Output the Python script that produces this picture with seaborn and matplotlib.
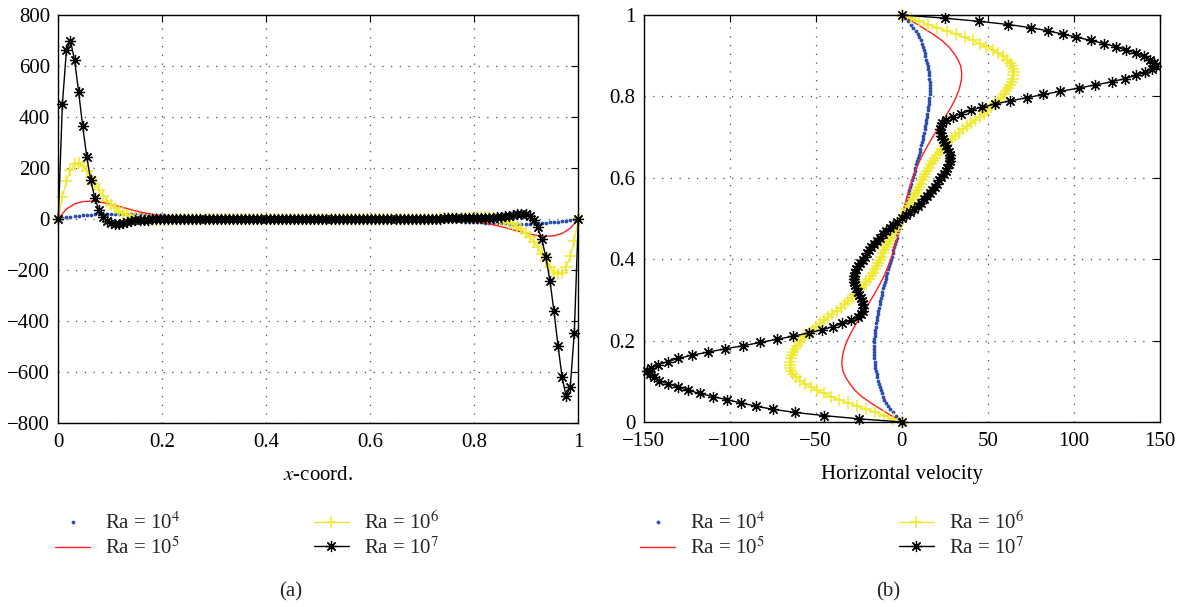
"""
Mid-plane velocity profiles of the heated cavity for four Rayleigh numbers
(a) vertical velocity along x at mid-height, (b) horizontal velocity along y at mid-width
"""

import numpy as np
import matplotlib
matplotlib.use('Agg')  # no display
import matplotlib.pyplot as plt
from matplotlib.ticker import FuncFormatter, MultipleLocator
import seaborn as sns

# (a) vertical velocity at mid-height, 129 points over x in [0, 1] (Ra = 1e5 on 65 points)
v_ra4 = [
    0, 2.5, 5.0, 7.3, 9.5, 11.4, 13.1, 14.6,
    15.9, 17.0, 17.9, 18.6, 19.1, 19.4, 19.6, 19.6,
    19.5, 19.2, 18.8, 18.3, 17.7, 17.0, 16.3, 15.6,
    14.8, 14.0, 13.2, 12.4, 11.6, 10.8, 10.0, 9.3,
    8.6, 7.9, 7.3, 6.7, 6.1, 5.6, 5.1, 4.6,
    4.2, 3.8, 3.4, 3.1, 2.8, 2.5, 2.2, 2.0,
    1.8, 1.6, 1.4, 1.2, 1.0, 0.9, 0.8, 0.7,
    0.6, 0.5, 0.4, 0.3, 0.2, 0.2, 0.1, 0.1,
    0, -0.1, -0.1, -0.2, -0.2, -0.3, -0.4, -0.5,
    -0.6, -0.7, -0.8, -0.9, -1.0, -1.2, -1.4, -1.6,
    -1.8, -2.0, -2.2, -2.5, -2.8, -3.1, -3.4, -3.8,
    -4.2, -4.6, -5.1, -5.6, -6.1, -6.7, -7.3, -7.9,
    -8.6, -9.3, -10.0, -10.8, -11.6, -12.4, -13.2, -14.0,
    -14.8, -15.6, -16.3, -17.0, -17.7, -18.3, -18.8, -19.2,
    -19.5, -19.6, -19.6, -19.4, -19.1, -18.6, -17.9, -17.0,
    -15.9, -14.6, -13.1, -11.4, -9.5, -7.3, -5.0, -2.5,
    0,
]
v_ra5 = [
    0, 38, 58, 67, 69, 66, 60, 52,
    44, 35, 27, 20.5, 15, 11, 8, 5.8,
    4.2, 3, 2.1, 1.4, 0.9, 0.6, 0.4, 0.2,
    0.1, 0.1, 0, 0, 0, 0, 0, 0,
    0,
    0, 0, 0, 0, 0, 0, -0.1, -0.1,
    -0.2, -0.4, -0.6, -0.9, -1.4, -2.1, -3, -4.2,
    -5.8, -8, -11, -15, -20.5, -27, -35, -44,
    -52, -60, -66, -69, -67, -58, -38, 0,
]
v_ra6 = [
    0, 86, 148, 190, 213, 218, 208, 188,
    163, 138, 112, 90, 71, 55, 42, 31,
    22, 15, 9, 4, 0, -3, -5, -6,
    -6, -6, -5, -4, -3, -2, -2, -1,
    -1, -1, -1, -0.5, -0.5, -0.5, -0.5, 0,
    0, 0, 0, 0, 0, 0, 0, 0,
    0, 0, 0, 0, 0, 0, 0, 0,
    0, 0, 0, 0, 0, 0, 0, 0,
    0, 0, 0, 0, 0, 0, 0, 0,
    0, 0, 0, 0, 0, 0, 0, 0,
    0, 0, 0, 0, 0, 0, 0, 0,
    0, 0, 0.5, 0.5, 0.5, 0.5, 1, 1,
    1, 1, 2, 2, 3, 4, 5, 6,
    6, 6, 5, 3, 0, -4, -9, -15,
    -22, -31, -42, -55, -71, -90, -112, -138,
    -163, -188, -208, -218, -213, -190, -148, -86,
    0,
]
v_ra7 = [
    0, 448, 661, 697, 622, 498, 363, 243,
    150, 80, 34, 6, -9, -17, -20, -19,
    -16, -12, -9, -7, -5, -4, -3.5, -3,
    -2.5, -2, -2, -1.5, -1.5, -1, -1, -1,
    -1, -1, -0.5, -0.5, -0.5, -0.5, 0, 0,
    0, 0, 0, 0, 0, 0, 0, 0,
    0, 0, 0, 0, 0, 0, 0, 0,
    0, 0, 0, 0, 0, 0, 0, 0,
    0, 0, 0, 0, 0, 0, 0, 0,
    0, 0, 0, 0, 0, 0, 0, 0,
    0, 0, 0, 0, 0, 0, 0, 0,
    0, 0, 0, 0.5, 0.5, 0.5, 0.5, 1,
    1, 1, 1, 1, 1.5, 1.5, 2, 2,
    2.5, 3, 3.5, 4, 5, 7, 9, 12,
    16, 19, 20, 17, 9, -6, -34, -80,
    -150, -243, -363, -498, -622, -697, -661, -448,
    0,
]

# (b) horizontal velocity at mid-width, 129 points over y in [0, 1] (Ra = 1e5 on 65 points)
u_ra4 = [
    0, -1.8, -3.5, -5.1, -6.6, -8.0, -9.2, -10.1,
    -10.9, -11.6, -12.1, -12.7, -13.2, -13.7, -14.2, -14.6,
    -15.0, -15.3, -15.6, -15.8, -16.0, -16.1, -16.2, -16.2,
    -16.2, -16.1, -16.0, -15.8, -15.6, -15.4, -15.2, -14.9,
    -14.6, -14.3, -14.0, -13.6, -13.3, -12.9, -12.5, -12.1,
    -11.7, -11.3, -10.8, -10.4, -9.9, -9.4, -8.9, -8.4,
    -7.9, -7.4, -6.9, -6.4, -5.9, -5.4, -4.9, -4.4,
    -3.9, -3.4, -3.0, -2.5, -2.0, -1.5, -1.0, -0.5,
    0, 0.5, 1.0, 1.5, 2.0, 2.5, 3.0, 3.4,
    3.9, 4.4, 4.9, 5.4, 5.9, 6.4, 6.9, 7.4,
    7.9, 8.4, 8.9, 9.4, 9.9, 10.4, 10.8, 11.3,
    11.7, 12.1, 12.5, 12.9, 13.3, 13.6, 14.0, 14.3,
    14.6, 14.9, 15.2, 15.4, 15.6, 15.8, 16.0, 16.1,
    16.2, 16.2, 16.2, 16.1, 16.0, 15.8, 15.6, 15.3,
    15.0, 14.6, 14.2, 13.7, 13.2, 12.7, 12.1, 11.6,
    10.9, 10.1, 9.2, 8.0, 6.6, 5.1, 3.5, 1.8,
    0,
]
u_ra5 = [
    0, -6.2, -12.2, -18.0, -23.3, -27.3, -30.2, -32.6,
    -34.2, -34.8, -34.7, -34.0, -32.9, -31.4, -29.6, -27.5,
    -25.3, -23.0, -20.7, -18.4, -16.2, -14.1, -12.1, -10.3,
    -8.7, -7.2, -5.9, -4.7, -3.6, -2.6, -1.7, -0.8,
    0,
    0.8, 1.7, 2.6, 3.6, 4.7, 5.9, 7.2, 8.7,
    10.3, 12.1, 14.1, 16.2, 18.4, 20.7, 23.0, 25.3,
    27.5, 29.6, 31.4, 32.9, 34.0, 34.7, 34.8, 34.2,
    32.6, 30.2, 27.3, 23.3, 18.0, 12.2, 6.2, 0,
]
u_ra6 = [
    0, -5.1, -10.2, -15.3, -20.6, -26.0, -31.3, -36.5,
    -41.2, -45.3, -49.2, -52.8, -56.1, -58.9, -61.2, -63.0,
    -64.2, -64.8, -65.0, -64.8, -64.4, -63.8, -63.0, -62.0,
    -60.8, -59.4, -57.8, -56.0, -54.0, -51.8, -49.6, -47.5,
    -45.2, -42.8, -40.4, -37.9, -35.5, -33.2, -31.0, -29.0,
    -27.1, -25.3, -23.6, -22.0, -20.6, -19.2, -17.9, -16.7,
    -15.6, -14.6, -13.7, -12.8, -11.9, -11.0, -10.1, -9.2,
    -8.3, -7.3, -6.3, -5.3, -4.3, -3.3, -2.2, -1.1,
    0, 1.1, 2.2, 3.3, 4.3, 5.3, 6.3, 7.3,
    8.3, 9.2, 10.1, 11.0, 11.9, 12.8, 13.7, 14.6,
    15.6, 16.7, 17.9, 19.2, 20.6, 22.0, 23.6, 25.3,
    27.1, 29.0, 31.0, 33.2, 35.5, 37.9, 40.4, 42.8,
    45.2, 47.5, 49.6, 51.8, 54.0, 56.0, 57.8, 59.4,
    60.8, 62.0, 63.0, 63.8, 64.4, 64.8, 65.0, 64.8,
    64.2, 63.0, 61.2, 58.9, 56.1, 52.8, 49.2, 45.3,
    41.2, 36.5, 31.3, 26.0, 20.6, 15.3, 10.2, 5.1,
    0,
]
u_ra7 = [
    0, -25, -45, -62, -75, -85, -93.5, -101.5,
    -110, -117.5, -124.5, -130, -136, -141, -144, -146.5,
    -147.8, -145.5, -141.5, -136, -129.8, -122, -112.4, -102.7,
    -92, -82.3, -72.7, -63, -54.2, -46.5, -40, -34.5,
    -29.5, -25.5, -23.6, -22.6, -22.3, -22.5, -23.0, -23.7,
    -24.6, -25.5, -26.4, -27.2, -27.8, -28.0, -27.8, -27.3,
    -26.5, -25.5, -24.3, -22.8, -21.6, -20.4, -19.1, -17.7,
    -16.2, -14.6, -12.9, -11.1, -9.2, -7.1, -4.9, -2.5,
    0, 2.5, 4.9, 7.1, 9.2, 11.1, 12.9, 14.6,
    16.2, 17.7, 19.1, 20.4, 21.6, 22.8, 24.3, 25.5,
    26.5, 27.3, 27.8, 28.0, 27.8, 27.2, 26.4, 25.5,
    24.6, 23.7, 23.0, 22.5, 22.3, 22.6, 23.6, 25.5,
    29.5, 34.5, 40, 46.5, 54.2, 63, 72.7, 82.3,
    92, 102.7, 112.4, 122, 129.8, 136, 141.5, 145.5,
    147.8, 146.5, 144, 141, 136, 130, 124.5, 117.5,
    110, 101.5, 93.5, 85, 75, 62, 45, 25,
    0,
]

ra_labels = [r'Ra = 10$^4$', r'Ra = 10$^5$', r'Ra = 10$^6$', r'Ra = 10$^7$']

BLUE, RED, YELLOW = '#2c4fae', '#ff2020', '#efe92c'
STYLES = [
    dict(color=BLUE, marker='.', linestyle='none', markersize=5.5,
         markeredgewidth=0, markeredgecolor=BLUE),
    dict(color=RED, linewidth=1.0),
    dict(color=YELLOW, marker='+', markersize=8, markeredgewidth=1.1,
         markeredgecolor=YELLOW, linewidth=1.0),
    dict(color='black', marker=(8, 2, 0), markersize=8, markeredgewidth=0.9,
         markeredgecolor='black', linewidth=1.0),
]

sns.set_theme(style='white')
plt.rcParams['font.family'] = ['Liberation Serif', 'DejaVu Serif']
plt.rcParams['mathtext.fontset'] = 'stix'
plt.rcParams['axes.unicode_minus'] = True

FS = 15


def plot_profiles(ax, series, along_y=False):
    """Draw the four Ra curves; each series lives on its own uniform grid over [0, 1]"""
    for values, label, style in zip(series, ra_labels, STYLES):
        grid = np.linspace(0, 1, len(values))
        if along_y:
            sns.lineplot(x=values, y=grid, ax=ax, sort=False, estimator=None,
                         label=label, clip_on=False, **style)
        else:
            sns.lineplot(x=grid, y=values, ax=ax, sort=False, estimator=None,
                         label=label, clip_on=False, **style)


def style_axes(ax, xlim, ylim, xstep, ystep, xlabel, legend_x):
    ax.set_xlim(*xlim)
    ax.set_ylim(*ylim)
    ax.xaxis.set_major_locator(MultipleLocator(xstep))
    ax.yaxis.set_major_locator(MultipleLocator(ystep))
    fmt = FuncFormatter(lambda v, _: f'{v:g}'.replace('-', '\u2212'))
    ax.xaxis.set_major_formatter(fmt)
    ax.yaxis.set_major_formatter(fmt)
    ax.tick_params(direction='in', top=True, right=True, length=5, width=0.8,
                   labelsize=FS, colors='black')
    ax.tick_params(axis='x', pad=7.5)
    ax.tick_params(axis='y', pad=6)
    ax.grid(True, color='0.3', linestyle=(0, (1, 6)), linewidth=0.9)
    for spine in ax.spines.values():
        spine.set_visible(True)
        spine.set_color('black')
        spine.set_linewidth(1.0)
    ax.set_xlabel(xlabel, fontsize=FS, labelpad=10, color='black')
    ax.set_ylabel('')
    ax.legend(loc='upper left', bbox_to_anchor=(legend_x, 0.157),
              bbox_transform=ax.figure.transFigure, ncol=2, frameon=False,
              fontsize=FS, handlelength=1.68, handletextpad=0.72,
              columnspacing=6.4, labelspacing=0.15, borderaxespad=0,
              borderpad=0, numpoints=1)


fig = plt.figure(figsize=(11.83, 6.07), dpi=100)
ax_a = fig.add_axes([0.04928, 0.3036, 0.4396, 0.6722])
ax_b = fig.add_axes([0.5441, 0.3048, 0.4364, 0.6705])

plot_profiles(ax_a, [v_ra4, v_ra5, v_ra6, v_ra7])
plot_profiles(ax_b, [u_ra4, u_ra5, u_ra6, u_ra7], along_y=True)

style_axes(ax_a, (0, 1), (-800, 800), 0.2, 200, r'$x$-coord.', 55 / 1183)
style_axes(ax_b, (-150, 150), (0, 1), 50, 0.2, 'Horizontal velocity', 640 / 1183)

fig.text(291 / 1183, 1 - 592 / 607, '(a)', ha='center', va='center', fontsize=FS)
fig.text(888 / 1183, 1 - 592 / 607, '(b)', ha='center', va='center', fontsize=FS)

fig.savefig('out.png', dpi=100)
